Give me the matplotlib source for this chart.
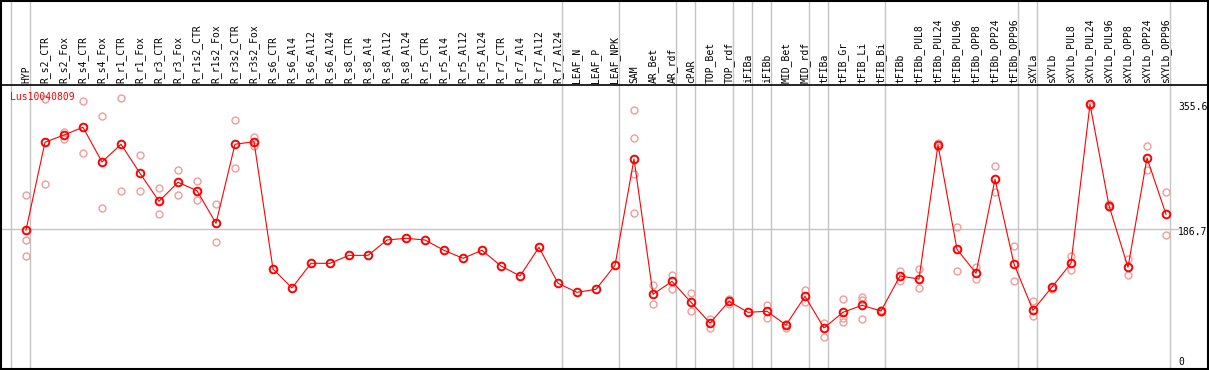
"""Expression profile of Lus10040809 across samples (mean line + replicates)."""
import matplotlib
matplotlib.use("Agg")
import matplotlib.pyplot as plt
from matplotlib import transforms
from matplotlib.lines import Line2D
from matplotlib.patches import Rectangle

gene = "Lus10040809"

samples = [
    "HYP", "R_s2_CTR", "R_s2_Fox", "R_s4_CTR", "R_s4_Fox", "R_r1_CTR", "R_r1_Fox",
    "R_r3_CTR", "R_r3_Fox", "R_r1s2_CTR", "R_r1s2_Fox", "R_r3s2_CTR", "R_r3s2_Fox",
    "R_s6_CTR", "R_s6_Al4", "R_s6_Al12", "R_s6_Al24", "R_s8_CTR", "R_s8_Al4",
    "R_s8_Al12", "R_s8_Al24", "R_r5_CTR", "R_r5_Al4", "R_r5_Al12", "R_r5_Al24",
    "R_r7_CTR", "R_r7_Al4", "R_r7_Al12", "R_r7_Al24", "LEAF_N", "LEAF_P", "LEAF_NPK",
    "SAM", "AR_Bet", "AR_rdf", "cPAR", "TOP_Bet", "TOP_rdf", "iFIBa", "iFIBb",
    "MID_Bet", "MID_rdf", "tFIBa", "tFIB_Gr", "tFIB_Li", "tFIB_Bi", "tFIBb",
    "tFIBb_PUL8", "tFIBb_PUL24", "tFIBb_PUL96", "tFIBb_OPP8", "tFIBb_OPP24",
    "tFIBb_OPP96", "sXYLa", "sXYLb", "sXYLb_PUL8", "sXYLb_PUL24", "sXYLb_PUL96",
    "sXYLb_OPP8", "sXYLb_OPP24", "sXYLb_OPP96",
]

means = [
    185.3, 304.2, 314.1, 324.5, 277.5, 301.5, 262.2, 224.2, 250.0, 238.6, 194.4,
    301.5, 305.0, 132.5, 106.8, 140.2, 140.2, 151.0, 151.0, 171.8, 174.1, 171.8,
    157.8, 147.0, 157.8, 136.6, 123.0, 161.9, 113.1, 100.9, 105.0, 137.5, 281.6,
    98.2, 115.8, 87.4, 59.3, 88.7, 73.8, 75.2, 56.6, 95.5, 52.6, 73.8, 83.3, 75.6,
    123.0, 118.9, 300.5, 159.2, 126.7, 254.0, 139.3, 76.5, 108.1, 140.2, 355.6,
    218.3, 134.8, 282.9, 206.6,
]

reps = [
    [232.8, 171.4, 149.7], [362.4, 247.7], [318.5, 308.8], [360.6, 289.3],
    [339.4, 214.7], [363.8, 237.8], [286.6, 237.8], [241.8, 206.6], [266.2, 232.4],
    [251.3, 225.6], [220.2, 168.7], [333.9, 269.7], [311.8, 299.2],
    [], [], [], [], [], [], [], [], [], [], [], [], [], [], [], [], [], [], [],
    [347.5, 309.6, 260.8, 208.0], [110.4, 85.5], [124.0, 105.8], [99.6, 76.0],
    [65.2, 52.9], [92.3, 85.1], [], [84.1, 66.5], [58.4, 52.9], [104.5, 88.2],
    [59.7, 40.9], [91.8, 65.7, 61.1], [95.0, 90.5, 64.3], [76.5, 74.7],
    [130.2, 116.2], [132.9, 106.8], [303.0, 298.0], [189.0, 129.4], [135.6, 118.5],
    [272.1, 236.4], [163.3, 116.2], [89.1, 68.4], [105.5], [149.7, 131.5], [352.9],
    [220.0, 216.6], [146.5, 124.8], [298.8, 267.1], [236.4, 178.2],
]

# last sample index of each group (-1 = left edge)
group_ends = [-1, 0, 28, 31, 34, 35, 37, 38, 39, 41, 42, 45, 52, 53, 60]
y_marks = [0, 186.7, 355.6]
y_labels = ["0", "186.7", "355.6"]

plt.rcParams["font.family"] = "DejaVu Sans Mono"
plt.rcParams["font.size"] = 7

W, H = 1209, 370
fig = plt.figure(figsize=(W / 100, H / 100), dpi=100)
# plot area: x 1..1171 px, y 85..369 px from top
ax = fig.add_axes([1 / W, 1 / H, 1170 / W, 284 / H])
ax.set_xlim(-25 / 19, 1145 / 19)
ax.set_ylim(-3.0, 381.8)
ax.axis("off")

grey = "#c4c4c4"
top_frac = 369 / 284
for k in group_ends:
    ax.axvline(k + 4 / 19, ymin=0, ymax=top_frac, color=grey, lw=1, clip_on=False, zorder=0)
ax.axhline(y_marks[1], xmin=0, xmax=1.006, color=grey, lw=1, clip_on=False, zorder=0)

# replicates
rx = [i for i, vals in enumerate(reps) for _ in vals]
ry = [v for vals in reps for v in vals]
ax.plot(rx, ry, "o", mfc="none", mec="#f09c9c", ms=5, mew=1.0, clip_on=False, zorder=2)

# mean profile
ax.plot(range(len(means)), means, color="#ff0000", lw=0.8, marker="o", mfc="none",
        mec="#ff0000", ms=5.5, mew=1.4, clip_on=False, zorder=3)

# sample labels in the header
xt = ax.get_xaxis_transform()
for i, name in enumerate(samples):
    ax.text(i, 1.007, name, transform=xt, rotation=90, ha="center", va="bottom",
            color="black")

# value labels on the right
offsets = [4.5, -3.5, -2.5]
yt = ax.get_yaxis_transform()
for v, lab, dy in zip(y_marks, y_labels, offsets):
    tr = transforms.offset_copy(yt, fig=fig, x=7, y=dy, units="dots")
    ax.text(1.0, v, lab, transform=tr, ha="left", va="center", color="black")

fig.text(10 / W, 1 - 97 / H, gene, color="#ff0000", ha="left", va="center")

# header rule and outer frame
fig.add_artist(Line2D([1 / W, 1 - 1 / W], [1 - 85 / H] * 2, transform=fig.transFigure,
                      color="black", lw=1.2))
fig.add_artist(Rectangle((1 / W, 1 / H), (W - 2) / W, (H - 2) / H, fill=False,
                         ec="black", lw=1.5, transform=fig.transFigure))

fig.savefig("out.png", dpi=100)
